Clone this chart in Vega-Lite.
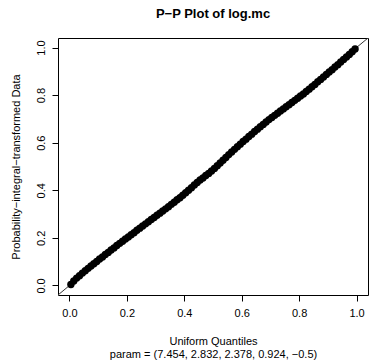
{
  "$schema": "https://vega.github.io/schema/vega-lite/v6.json",
  "autosize": {"type": "none"},
  "padding": {"left": 58, "top": 38, "right": 3, "bottom": 68},
  "width": 310,
  "height": 257,
  "background": "white",
  "title": {"text": "P−P Plot of log.mc", "font": "Liberation Sans", "fontSize": 13, "fontWeight": "bold", "color": "black", "anchor": "middle", "offset": 17},
  "config": {
    "view": {"stroke": "black", "strokeWidth": 1},
    "axis": {"grid": false, "domain": false, "tickColor": "black", "tickSize": 6, "labelFont": "Liberation Sans", "labelFontSize": 11, "labelColor": "black", "titleFont": "Liberation Sans", "titleFontSize": 11, "titleFontWeight": "normal", "titleColor": "black"}
  },
  "datasets": {
    "pts": [
      {"u":0.005,"p":0.004},{"u":0.015,"p":0.019},{"u":0.025,"p":0.031},{"u":0.035,"p":0.041},{"u":0.045,"p":0.052},
      {"u":0.055,"p":0.062},{"u":0.065,"p":0.072},{"u":0.075,"p":0.082},{"u":0.085,"p":0.091},{"u":0.095,"p":0.101},
      {"u":0.105,"p":0.111},{"u":0.115,"p":0.120},{"u":0.125,"p":0.130},{"u":0.135,"p":0.139},{"u":0.145,"p":0.149},
      {"u":0.155,"p":0.158},{"u":0.165,"p":0.168},{"u":0.175,"p":0.177},{"u":0.185,"p":0.186},{"u":0.195,"p":0.195},
      {"u":0.205,"p":0.204},{"u":0.215,"p":0.213},{"u":0.225,"p":0.222},{"u":0.235,"p":0.232},{"u":0.245,"p":0.241},
      {"u":0.255,"p":0.250},{"u":0.265,"p":0.259},{"u":0.275,"p":0.268},{"u":0.285,"p":0.277},{"u":0.295,"p":0.286},
      {"u":0.305,"p":0.295},{"u":0.315,"p":0.304},{"u":0.325,"p":0.313},{"u":0.335,"p":0.322},{"u":0.345,"p":0.331},
      {"u":0.355,"p":0.341},{"u":0.365,"p":0.350},{"u":0.375,"p":0.360},{"u":0.385,"p":0.369},{"u":0.395,"p":0.379},
      {"u":0.405,"p":0.390},{"u":0.415,"p":0.400},{"u":0.425,"p":0.411},{"u":0.435,"p":0.422},{"u":0.445,"p":0.433},
      {"u":0.455,"p":0.443},{"u":0.465,"p":0.452},{"u":0.475,"p":0.462},{"u":0.485,"p":0.471},{"u":0.495,"p":0.481},
      {"u":0.505,"p":0.492},{"u":0.515,"p":0.503},{"u":0.525,"p":0.515},{"u":0.535,"p":0.526},{"u":0.545,"p":0.538},
      {"u":0.555,"p":0.550},{"u":0.565,"p":0.561},{"u":0.575,"p":0.572},{"u":0.585,"p":0.583},{"u":0.595,"p":0.594},
      {"u":0.605,"p":0.605},{"u":0.615,"p":0.615},{"u":0.625,"p":0.626},{"u":0.635,"p":0.636},{"u":0.645,"p":0.647},
      {"u":0.655,"p":0.657},{"u":0.665,"p":0.667},{"u":0.675,"p":0.677},{"u":0.685,"p":0.687},{"u":0.695,"p":0.697},
      {"u":0.705,"p":0.706},{"u":0.715,"p":0.715},{"u":0.725,"p":0.724},{"u":0.735,"p":0.733},{"u":0.745,"p":0.742},
      {"u":0.755,"p":0.751},{"u":0.765,"p":0.760},{"u":0.775,"p":0.769},{"u":0.785,"p":0.778},{"u":0.795,"p":0.787},
      {"u":0.805,"p":0.796},{"u":0.815,"p":0.805},{"u":0.825,"p":0.815},{"u":0.835,"p":0.825},{"u":0.845,"p":0.835},
      {"u":0.855,"p":0.845},{"u":0.865,"p":0.856},{"u":0.875,"p":0.866},{"u":0.885,"p":0.876},{"u":0.895,"p":0.887},
      {"u":0.905,"p":0.897},{"u":0.915,"p":0.907},{"u":0.925,"p":0.918},{"u":0.935,"p":0.928},{"u":0.945,"p":0.939},
      {"u":0.955,"p":0.950},{"u":0.965,"p":0.960},{"u":0.975,"p":0.971},{"u":0.985,"p":0.982},{"u":0.995,"p":0.994}
    ],
    "diag": [{"u": -0.04, "p": -0.04}, {"u": 1.04, "p": 1.04}]
  },
  "layer": [
    {
      "data": {"name": "diag"},
      "mark": {"type": "line", "color": "#333333", "strokeWidth": 1, "clip": true},
      "encoding": {
        "x": {"field": "u", "type": "quantitative", "scale": {"domain": [-0.04, 1.04], "nice": false, "zero": false},
          "axis": {"values": [0, 0.2, 0.4, 0.6, 0.8, 1.0], "format": ".1f", "labelPadding": 6, "titlePadding": 17, "title": ["Uniform Quantiles", "param = (7.454, 2.832, 2.378, 0.924, −0.5)"], "titleLineHeight": 13}},
        "y": {"field": "p", "type": "quantitative", "scale": {"domain": [-0.04, 1.04], "nice": false, "zero": false},
          "axis": {"values": [0, 0.2, 0.4, 0.6, 0.8, 1.0], "format": ".1f", "labelAngle": -90, "labelAlign": "center", "labelBaseline": "bottom", "labelPadding": 6, "titlePadding": 14, "title": "Probability−integral−transformed Data"}}
      }
    },
    {
      "data": {"name": "pts"},
      "mark": {"type": "circle", "color": "black", "opacity": 1, "size": 55},
      "encoding": {
        "x": {"field": "u", "type": "quantitative"},
        "y": {"field": "p", "type": "quantitative"}
      }
    }
  ]
}
